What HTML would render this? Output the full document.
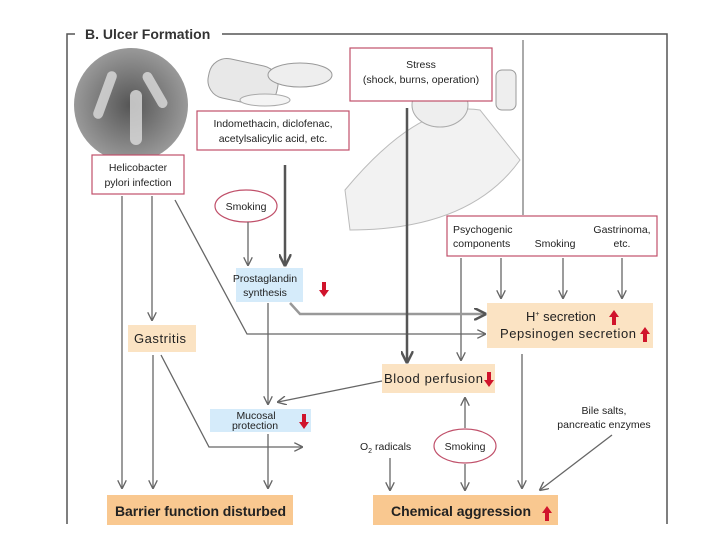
<!DOCTYPE html>
<html><head><meta charset="utf-8"><style>
body{margin:0;background:#fff;}
svg{display:block;font-family:"Liberation Sans",sans-serif;}
</style></head><body>
<svg width="720" height="540" viewBox="0 0 720 540" xmlns="http://www.w3.org/2000/svg">
<defs>
<marker id="a" viewBox="0 0 10 10" refX="9" refY="5" markerWidth="7" markerHeight="7" orient="auto"><path d="M0,0 L10,5 L0,10" fill="none" stroke="#666" stroke-width="1.5"/></marker>
<marker id="b" viewBox="0 0 10 10" refX="9" refY="5" markerWidth="5" markerHeight="5" orient="auto"><path d="M0,0 L10,5 L0,10" fill="none" stroke="#555" stroke-width="2"/></marker>
<radialGradient id="g" cx="0.5" cy="0.5" r="0.5"><stop offset="0" stop-color="#555"/><stop offset="1" stop-color="#999"/></radialGradient>
</defs>
<path d="M67,524 V34 H75 M222,34 H667 V524" fill="none" stroke="#555" stroke-width="1.5"/>
<text x="85" y="39" font-size="14" font-weight="bold" fill="#333">B. Ulcer Formation</text>
<circle cx="131" cy="105" r="57" fill="url(#g)"/>
<g fill="#ddd" opacity="0.8"><rect x="100" y="70" width="10" height="50" rx="5" transform="rotate(20 105 95)"/><rect x="130" y="90" width="12" height="55" rx="6"/><rect x="150" y="70" width="10" height="40" rx="5" transform="rotate(-30 155 90)"/></g>
<rect x="208" y="62" width="70" height="40" rx="18" fill="#e8e8e8" stroke="#999" transform="rotate(12 243 82)"/>
<ellipse cx="300" cy="75" rx="32" ry="12" fill="#eee" stroke="#999"/>
<ellipse cx="265" cy="100" rx="25" ry="6" fill="#f4f4f4" stroke="#aaa"/>
<path d="M345,190 Q420,100 480,110 L520,160 Q470,230 350,230 Z" fill="#f2f2f2" stroke="#bbb"/>
<ellipse cx="440" cy="105" rx="28" ry="22" fill="#eee" stroke="#aaa"/>
<rect x="496" y="70" width="20" height="40" rx="6" fill="#eee" stroke="#999"/>
<line x1="523" y1="40" x2="523" y2="215" stroke="#aaa" stroke-width="2"/>
<g stroke="#c0506a" stroke-width="1.2" fill="#fff">
<rect x="92" y="155" width="92" height="39"/>
<rect x="350" y="48" width="142" height="53"/>
<rect x="197" y="111" width="152" height="39"/>
<rect x="447" y="216" width="210" height="40"/>
<ellipse cx="246" cy="206" rx="31" ry="16"/>
<ellipse cx="465" cy="446" rx="31" ry="17"/>
</g>
<g fill="#fbe3c3">
<rect x="487" y="303" width="166" height="45"/>
<rect x="128" y="325" width="68" height="27"/>
<rect x="382" y="364" width="113" height="29"/>
</g>
<g fill="#f9c890"><rect x="107" y="495" width="186" height="30"/><rect x="373" y="495" width="185" height="30"/></g>
<g fill="#d5ebfa"><rect x="236" y="268" width="67" height="34"/><rect x="210" y="409" width="101" height="23"/></g>
<g font-size="10.5" fill="#222" text-anchor="middle">
<text x="138" y="171">Helicobacter</text><text x="138" y="186">pylori infection</text>
<text x="421" y="68">Stress</text><text x="421" y="83">(shock, burns, operation)</text>
<text x="273" y="127">Indomethacin, diclofenac,</text><text x="273" y="142">acetylsalicylic acid, etc.</text>
<text x="246" y="210">Smoking</text>
<text x="265" y="282">Prostaglandin</text><text x="265" y="296">synthesis</text>
<text x="453" y="233" text-anchor="start">Psychogenic</text>
<text x="453" y="247" text-anchor="start">components</text>
<text x="555" y="247">Smoking</text>
<text x="622" y="233">Gastrinoma,</text><text x="622" y="247">etc.</text>
<text x="256" y="419">Mucosal</text><text x="255" y="429">protection</text>
<text x="360" y="450" text-anchor="start">O<tspan font-size="7" dy="3">2</tspan><tspan dy="-3"> radicals</tspan></text>
<text x="465" y="450">Smoking</text>
<text x="604" y="414">Bile salts,</text><text x="604" y="428">pancreatic enzymes</text>
</g>
<g font-size="13" fill="#222">
<text x="134" y="343" textLength="52">Gastritis</text>
<text x="384" y="383" textLength="99">Blood perfusion</text>
<text x="526" y="321">H<tspan font-size="7" dy="-5">+</tspan><tspan dy="5"> secretion</tspan></text>
<text x="500" y="338" textLength="136">Pepsinogen secretion</text>
<text x="115" y="516" font-size="14" font-weight="bold" textLength="171">Barrier function disturbed</text>
<text x="391" y="516" font-size="14" font-weight="bold" textLength="140">Chemical aggression</text>
</g>
<g fill="#d0142c">
<path d="M322,282 h4 v8 h3 l-5,7 l-5,-7 h3z"/>
<path d="M302,414 h4 v8 h3 l-5,7 l-5,-7 h3z"/>
<path d="M487,372 h4 v8 h3 l-5,7 l-5,-7 h3z"/>
<path d="M612,325 h4 v-8 h3 l-5,-7 l-5,7 h3z"/>
<path d="M643,342 h4 v-8 h3 l-5,-7 l-5,7 h3z"/>
<path d="M545,521 h4 v-8 h3 l-5,-7 l-5,7 h3z"/>
</g>
<g stroke="#666" stroke-width="1.3" fill="none" marker-end="url(#a)">
<line x1="122" y1="196" x2="122" y2="488"/>
<line x1="152" y1="196" x2="152" y2="320"/>
<line x1="248" y1="222" x2="248" y2="265"/>
<line x1="268" y1="303" x2="268" y2="404"/>
<line x1="461" y1="258" x2="461" y2="360"/>
<line x1="501" y1="258" x2="501" y2="298"/>
<line x1="563" y1="258" x2="563" y2="298"/>
<line x1="622" y1="258" x2="622" y2="298"/>
<line x1="522" y1="354" x2="522" y2="488"/>
<line x1="153" y1="355" x2="153" y2="488"/>
<line x1="268" y1="434" x2="268" y2="488"/>
<line x1="390" y1="458" x2="390" y2="490"/>
<line x1="465" y1="428" x2="465" y2="398"/>
<line x1="465" y1="464" x2="465" y2="490"/>
<line x1="612" y1="435" x2="540" y2="490"/>
<polyline points="175,200 247,334 485,334"/>
<polyline points="161,355 209,447 302,447"/>
<line x1="382" y1="381" x2="278" y2="402"/>
</g>
<polyline points="290,303 300,314 485,314" stroke="#999" stroke-width="2.5" fill="none" marker-end="url(#b)"/>
<g stroke="#555" stroke-width="2.5" fill="none" marker-end="url(#b)">
<line x1="407" y1="108" x2="407" y2="362"/>
<line x1="285" y1="165" x2="285" y2="265"/>
</g>
</svg>
</body></html>
